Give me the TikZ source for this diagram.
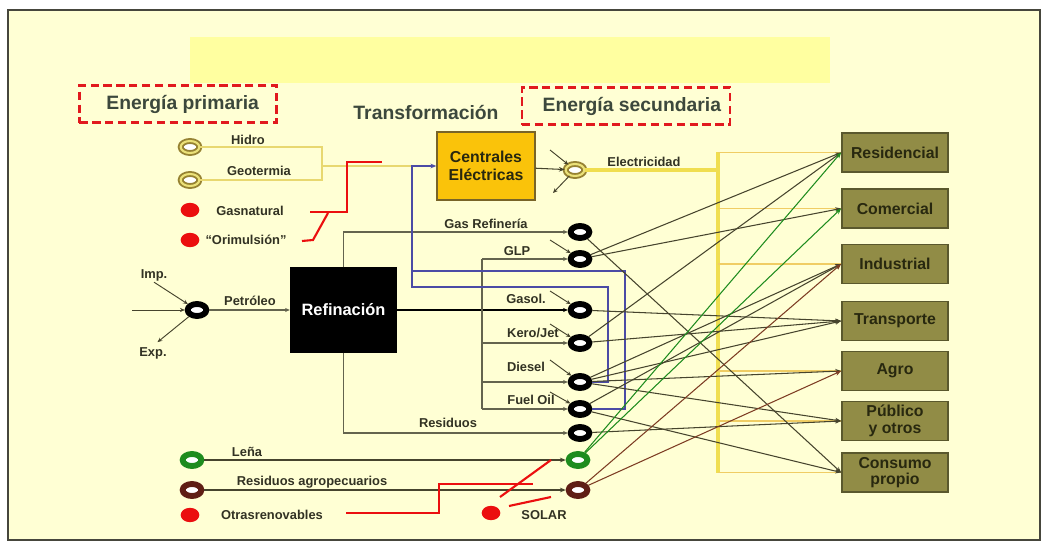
\documentclass[tikz,border=0pt]{standalone}
\usepackage{fontspec}
\setmainfont{Liberation Sans}
\usetikzlibrary{arrows.meta, positioning, calc, shapes.geometric}

\definecolor{slidebg}{RGB}{255,255,212}
\definecolor{banneryellow}{RGB}{255,255,160}
\definecolor{framegray}{RGB}{70,70,60}
\definecolor{dashred}{RGB}{225,25,30}
\definecolor{dotred}{RGB}{235,15,15}
\definecolor{titletext}{RGB}{60,72,60}
\definecolor{labeltext}{RGB}{50,50,35}
\definecolor{flowdark}{RGB}{70,68,45}
\definecolor{feedolive}{RGB}{100,100,78}
\definecolor{bluepipe}{RGB}{75,75,165}
\definecolor{hydroyellow}{RGB}{232,216,112}
\definecolor{elecyellow}{RGB}{240,222,80}
\definecolor{branchyellow}{RGB}{240,205,100}
\definecolor{ringolive}{RGB}{150,130,50}
\definecolor{ringyellow}{RGB}{235,225,120}
\definecolor{lenagreen}{RGB}{30,140,30}
\definecolor{agrobrown}{RGB}{95,30,20}
\definecolor{agroline}{RGB}{125,60,35}
\definecolor{centralgold}{RGB}{250,195,10}
\definecolor{centraledge}{RGB}{120,100,40}
\definecolor{sectorfill}{RGB}{145,140,70}
\definecolor{sectoredge}{RGB}{90,88,45}
\definecolor{sectortext}{RGB}{40,40,15}

\begin{document}
\begin{tikzpicture}[
		x=0.03cm, y=-0.03cm,
		ring/.style={ellipse, draw=black, line width=5pt, fill=white,
				minimum width=0.56cm, minimum height=0.36cm, inner sep=0pt},
		yring/.style={ring, draw=ringolive, double=ringyellow,
				double distance=1.8pt, line width=1.6pt},
		reddot/.style={ellipse, fill=dotred, minimum width=0.56cm,
				minimum height=0.43cm, inner sep=0pt},
		lbl/.style={font=\fontsize{11}{12}\selectfont\bfseries, text=labeltext, inner sep=1pt},
		head/.style={font=\fontsize{16.5}{18}\selectfont\bfseries, text=titletext},
		dashbox/.style={head, draw=dashred, line width=2.4pt,
				dash pattern=on 7pt off 4pt, minimum height=1.13cm},
		plant/.style={rectangle, draw=centraledge, line width=1.2pt, fill=centralgold,
				text=sectortext, align=center, inner sep=1pt,
				font=\fontsize{13.5}{15}\selectfont\bfseries},
		sector/.style={rectangle, draw=sectoredge, line width=1.5pt, fill=sectorfill,
				text=sectortext, align=center, inner sep=1pt,
				minimum width=3.18cm, minimum height=1.17cm,
				font=\fontsize{13.5}{14}\selectfont\bfseries},
		flow/.style={draw=flowdark, line width=0.9pt, -{Stealth[length=5pt, width=4pt]}},
		feed/.style={draw=feedolive, line width=1pt, -{Stealth[length=4pt, width=3.5pt]}},
		imparrow/.style={draw=flowdark, line width=0.8pt, -{Stealth[length=4pt, width=3.5pt]}},
		pipe/.style={draw=bluepipe, line width=1.6pt},
		hydroline/.style={draw=hydroyellow, line width=1.4pt},
		elecline/.style={draw=elecyellow, line width=2.6pt},
		elecbranch/.style={draw=branchyellow, line width=1.2pt},
		redline/.style={draw=dotred, line width=1.8pt},
	]

	\useasboundingbox (0,0) rectangle (1042,545);
	\fill[white] (0,0) rectangle (1042,545);
	\filldraw[fill=slidebg, draw=framegray, line width=1.5pt] (8,10) rectangle (1040,540);
	\fill[banneryellow] (190,37) rectangle (830,83);

	% -- headings --

	\node[dashbox, minimum width=5.91cm] (prim) at (178,104) {\hspace{8pt}Energía primaria};
	\node[head] (trans) at (426,113) {Transformación};
	\node[dashbox, minimum width=6.24cm] (sec) at (626,106) {\hspace{10pt}Energía secundaria};

	% -- primary sources --

	\node[yring] (hidro) at (190,147) {};
	\node[lbl] (hidro-l) at (248,140) {Hidro};
	\node[yring] (geo) at (190,180) {};
	\node[lbl] (geo-l) at (259,171) {Geotermia};
	\node[reddot] (gasnat) at (190,210) {};
	\node[lbl] (gasnat-l) at (250,211) {Gasnatural};
	\node[reddot] (orim) at (190,240) {};
	\node[lbl] (orim-l) at (246,240) {“Orimulsión”};

	\node[ring] (petro) at (197,310) {};
	\node[lbl] (imp-l) at (154,275) {Imp.};
	\node[lbl] (exp-l) at (153,353) {Exp.};
	\node[lbl] (petro-l) at (250,301) {Petróleo};

	\node[ring, draw=lenagreen] (lena1) at (192,460) {};
	\node[lbl] (lena-l) at (247,452) {Leña};
	\node[ring, draw=agrobrown] (agro1) at (192,490) {};
	\node[lbl] (agro-l) at (312,482) {Residuos agropecuarios};
	\node[reddot] (otras) at (190,515) {};
	\node[lbl] (otras-l) at (272,515) {Otrasrenovables};
	\node[reddot] (solar) at (491,513) {};
	\node[lbl] (solar-l) at (544,515) {SOLAR};

	% -- transformation --

	\node[rectangle, fill=black, text=white, minimum width=3.21cm, minimum height=2.55cm,
		font=\fontsize{14}{16}\selectfont\bfseries] (refi) at (343.5,310) {Refinación};
	\node[plant, minimum width=2.94cm, minimum height=2.04cm] (cent) at (486,166)
	{Centrales\\Eléctricas};

	% -- secondary energy --

	\node[yring] (elec) at (575,170) {};
	\node[lbl] (elec-l) at (644,162) {Electricidad};
	\node[ring] (gasref) at (580,232) {};
	\node[lbl] (gasref-l) at (486,224) {Gas Refinería};
	\node[ring] (glp) at (580,259) {};
	\node[lbl] (glp-l) at (517,251) {GLP};
	\node[ring] (gasol) at (580,310) {};
	\node[lbl] (gasol-l) at (526,299) {Gasol.};
	\node[ring] (kero) at (580,343) {};
	\node[lbl] (kero-l) at (533,333) {Kero/Jet};
	\node[ring] (diesel) at (580,382) {};
	\node[lbl] (diesel-l) at (526,367) {Diesel};
	\node[ring] (fuel) at (580,409) {};
	\node[lbl] (fuel-l) at (531,400) {Fuel Oil};
	\node[ring] (resid) at (580,433) {};
	\node[lbl] (resid-l) at (448,423) {Residuos};
	\node[ring, draw=lenagreen] (lena2) at (578,460) {};
	\node[ring, draw=agrobrown] (agro2) at (578,490) {};

	% -- final sectors --

	\node[sector] (res) at (895,152.5) {Residencial};
	\node[sector] (com) at (895,208.5) {Comercial};
	\node[sector] (ind) at (895,264) {Industrial};
	\node[sector] (tra) at (895,321) {Transporte};
	\node[sector] (agr) at (895,371) {Agro};
	\node[sector] (pub) at (895,421) {Público\\y otros};
	\node[sector] (con) at (895,472.5) {Consumo\\propio};

	% -- hydro, geothermal and electricity --

	\coordinate (hg-top) at (322,147);
	\coordinate (hg-bot) at (322,180);
	\coordinate (hg-mid) at (322,166);
	\coordinate (pipe-a) at (412,271);
	\coordinate (pipe-b) at (412,287);
	\draw[hydroline] (hidro) -- (hg-top) -- (hg-bot) -- (geo);
	\draw[hydroline] (hg-mid) -- (pipe-a |- cent.west);

	\coordinate (bus-top) at (718,152.5);
	\coordinate (bus-bot) at (718,472.5);
	\draw[elecline] (elec) -- (elec -| bus-top);
	\draw[elecline] (bus-top) -- (bus-bot);
	\draw[elecbranch] (bus-top) -- (res.west);
	\draw[elecbranch] (bus-top |- com) -- (com.west);
	\draw[elecbranch] (bus-top |- ind) -- (ind.west);
	\draw[elecbranch] (bus-top |- agr) -- (agr.west);
	\draw[elecbranch] (bus-top |- pub) -- (pub.west);
	\draw[elecbranch] (bus-bot) -- (con.west);

	\draw[flow] (cent) -- (elec);
	\coordinate (elec-imp) at (550,150);
	\coordinate (elec-exp) at (553,193);
	\draw[imparrow] (elec-imp) -- (elec);
	\draw[imparrow] (elec) -- (elec-exp);

	% -- oil and refinery --

	\coordinate (petro-in) at (132,310);
	\draw[imparrow] (petro-in) -- (petro);
	\draw[imparrow] (imp-l.south) -- (petro);
	\draw[imparrow, shorten >=5pt] (petro) -- (exp-l.north);
	\draw[feed] (petro) -- (refi);

	\draw[feed] (refi.north) |- (gasref);
	\draw[feed] (refi.south) |- (resid);
	\draw[feed, draw=black, line width=1.3pt] (refi) -- (gasol);
	\coordinate (split) at (482,310);
	\draw[feedolive, line width=1pt] (split |- glp) -- (split |- fuel);
	\draw[feed] (split |- glp) -- (glp);
	\draw[feed] (split |- kero) -- (kero);
	\draw[feed] (split |- diesel) -- (diesel);
	\draw[feed] (split |- fuel) -- (fuel);

	\draw[imparrow] ($(glp)+(-30,-19)$) -- (glp);
	\draw[imparrow] ($(gasol)+(-30,-19)$) -- (gasol);
	\draw[imparrow] ($(kero)+(-30,-19)$) -- (kero);
	\draw[imparrow] ($(diesel)+(-30,-22)$) -- (diesel);
	\draw[imparrow] ($(fuel)+(-30,-17)$) -- (fuel);

	% -- fuels back to power plants --

	\coordinate (dsl-riser) at (608,287);
	\coordinate (fo-riser) at (625,271);
	\draw[pipe] (diesel.east) -| (dsl-riser) -- (pipe-b) -- (pipe-a);
	\draw[pipe, -{Stealth[length=5pt, width=4pt]}]
	(fuel.east) -| (fo-riser) -- (pipe-a) |- (cent.west);

	% -- biomass --

	\draw[flow] (lena1) -- (lena2);
	\draw[flow] (agro1) -- (agro2);

	% -- secondary energy to sectors --

	\draw[flow] (gasref) -- (con.west);
	\draw[flow] (glp) -- (res.west);
	\draw[flow] (glp) -- (com.west);
	\draw[flow] (gasol) -- (tra.west);
	\draw[flow] (kero) -- (res.west);
	\draw[flow] (kero) -- (tra.west);
	\draw[flow] (diesel) -- (ind.west);
	\draw[flow] (diesel) -- (tra.west);
	\draw[flow] (diesel) -- (agr.west);
	\draw[flow] (diesel) -- (pub.west);
	\draw[flow] (fuel) -- (ind.west);
	\draw[flow] (fuel) -- (con.west);
	\draw[flow] (resid) -- (pub.west);
	\draw[flow, draw=lenagreen] (lena2) -- (res.west);
	\draw[flow, draw=lenagreen] (lena2) -- (com.west);
	\draw[flow, draw=agroline] (agro2) -- (ind.west);
	\draw[flow, draw=agroline] (agro2) -- (agr.west);

	% -- red marks --

	\draw[redline] (310,212) -- (347,212) -- (347,162) -- (382,162);
	\draw[redline] (302,241) -- (313,240) -- (328,213);
	\draw[redline] (346,513) -- (439,513) -- (439,484) -- (533,484);
	\draw[redline] (500,497) -- (551,460);
	\draw[redline] (509,506) -- (551,497);
\end{tikzpicture}
\end{document}
